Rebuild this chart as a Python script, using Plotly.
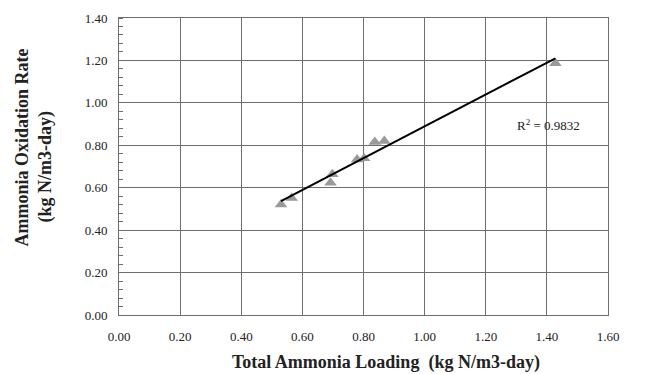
import numpy as np
import plotly.graph_objects as go

# Total ammonia loading vs. ammonia oxidation rate (kg N/m3-day)
loading = [0.530, 0.565, 0.698, 0.692, 0.779, 0.802, 0.837, 0.868, 1.428]
oxidation = [0.521, 0.552, 0.664, 0.623, 0.733, 0.739, 0.816, 0.820, 1.187]
r2_label = "R<sup>2</sup> = 0.9832"

x_ticks = [0.0, 0.2, 0.4, 0.6, 0.8, 1.0, 1.2, 1.4, 1.6]
y_ticks = [0.0, 0.2, 0.4, 0.6, 0.8, 1.0, 1.2, 1.4]

# Linear trend line over the observed loading range
slope, intercept = np.polyfit(loading, oxidation, 1)
fit_x = [min(loading), max(loading)]
fit_y = [slope * v + intercept for v in fit_x]

font_family = "Times New Roman, Liberation Serif, DejaVu Serif, serif"
grid_color = "#6e6e6e"
text_color = "#222222"
title_font = dict(family=font_family, size=18, color=text_color)

fig = go.Figure()
fig.add_trace(go.Scatter(
    x=loading, y=oxidation, mode="markers",
    marker=dict(symbol="triangle-up", size=11, color="#9a9a9a", line=dict(width=0)),
    showlegend=False,
))
fig.add_trace(go.Scatter(
    x=fit_x, y=fit_y, mode="lines",
    line=dict(color="#000000", width=2),
    showlegend=False,
))

fig.update_layout(
    width=655, height=374,
    margin=dict(l=119, r=47, t=18, b=59),
    paper_bgcolor="white", plot_bgcolor="white",
    font=dict(family=font_family, size=13, color=text_color),
    xaxis=dict(
        range=[0, 1.6], tickvals=x_ticks,
        ticktext=[f"{v:.2f}" for v in x_ticks],
        showgrid=True, gridcolor=grid_color, gridwidth=1,
        showline=True, linecolor=grid_color, linewidth=1, mirror=True,
        ticks="", ticklabelstandoff=9, zeroline=False,
    ),
    yaxis=dict(
        range=[0, 1.4], tickvals=y_ticks,
        ticktext=[f"{v:.2f}" for v in y_ticks],
        showgrid=True, gridcolor=grid_color, gridwidth=1,
        showline=True, linecolor=grid_color, linewidth=1, mirror=True,
        ticks="", ticklabelstandoff=8, zeroline=False,
        minor=dict(dtick=0.04, ticks="inside", ticklen=4, tickcolor=grid_color,
                   showgrid=False),
    ),
    annotations=[
        dict(text=r2_label, x=1.404, y=0.897, xref="x", yref="y",
             showarrow=False, font=dict(family=font_family, size=13, color=text_color)),
        dict(text="<b>Total Ammonia Loading  (kg N/m3-day)</b>",
             x=0.546, y=0, xref="paper", yref="paper",
             xanchor="center", yanchor="middle", yshift=-47,
             showarrow=False, font=title_font),
        dict(text="<b>Ammonia Oxidation Rate</b>",
             x=0, y=0.5, xref="paper", yref="paper",
             xanchor="center", yanchor="middle", xshift=-98, yshift=19,
             textangle=-90, showarrow=False, font=title_font),
        dict(text="<b>(kg N/m3-day)</b>",
             x=0, y=0.5, xref="paper", yref="paper",
             xanchor="center", yanchor="middle", xshift=-74, yshift=0,
             textangle=-90, showarrow=False, font=title_font),
    ],
)

fig.write_html("out.html")
